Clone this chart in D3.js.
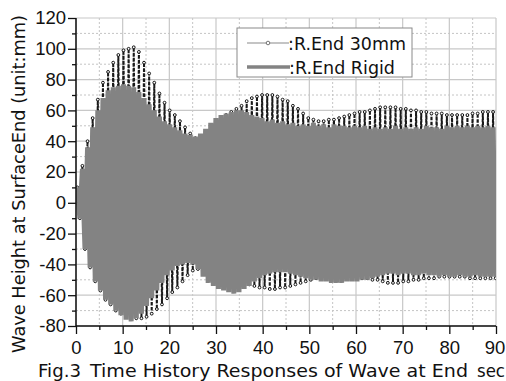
<!DOCTYPE html>
<html><head><meta charset="utf-8">
<script src="https://cdn.jsdelivr.net/npm/d3@7"></script>
<style>
html,body{margin:0;padding:0;background:#fff;}
svg{display:block;}
text{font-family:"DejaVu Sans",sans-serif;fill:#111;}
</style></head>
<body>
<svg id="chart" width="506" height="381"></svg>
<script>
// ---- data ----
const cycleTimes = [0.55,1.65,2.75,3.85,4.95,6.05,7.15,8.25,9.35,10.45,11.55,12.65,13.75,14.85,15.95,17.05,18.15,19.25,20.35,21.45,22.55,23.65,24.75,25.85,26.95,28.05,29.15,30.25,31.35,32.45,33.55,34.65,35.75,36.85,37.95,39.05,40.15,41.25,42.35,43.45,44.55,45.65,46.75,47.85,48.95,50.05,51.15,52.25,53.35,54.45,55.55,56.65,57.75,58.85,59.95,61.05,62.15,63.25,64.35,65.45,66.55,67.65,68.75,69.85,70.95,72.05,73.15,74.25,75.35,76.45,77.55,78.65,79.75,80.85,81.95,83.05,84.15,85.25,86.35,87.45,88.55,89.65];
const halfCycle = 0.275;
// R.End 30mm : crest and trough per cycle (mm)
const end30Max = [10,24,40,55,67,78,85,91,96,99, 100,101,98,91,84,78,71,65,60,57, 53,49,45,42,43,46,50,53,55,57, 59,61,63,66,68,69,70,70,70,69, 67,66,63,61,58,55,54,53,53,54, 54,55,56,57,58,59,59,60,61,62, 62,62,62,61,61,60,60,59,59,58, 58,58,57,57,57,57,57,58,58,59, 59,59];
const end30Min = [-10,-30,-42,-51,-57,-63,-66,-70,-72,-74, -75,-75,-75,-74,-72,-69,-66,-62,-58,-55, -51,-47,-44,-43,-44,-46,-47,-48,-49,-50, -50,-51,-52,-53,-54,-55,-55,-56,-56,-55, -55,-54,-53,-52,-51,-50,-49,-49,-48,-48, -48,-48,-48,-48,-48,-49,-49,-50,-50,-51, -52,-52,-52,-51,-51,-50,-50,-49,-49,-49, -48,-48,-48,-48,-48,-48,-49,-49,-49,-49, -49,-49];
// R.End Rigid : crest and trough per cycle (mm)
const rigidMax = [10,22,36,49,60,68,73,75,76,77, 76,75,72,68,64,60,56,53,51,49, 47,45,44,43,45,48,52,55,57,58, 59,60,60,59,57,56,55,53,54,52, 53,51,52,50,51,50,52,50,51,49, 51,50,50,49,50,49,50,48,49,48, 49,48,50,48,49,48,49,48,50,49, 49,48,50,49,50,49,50,49,50,49, 50,49];
const rigidMin = [-10,-30,-42,-51,-57,-63,-66,-70,-73,-76, -77,-75,-72,-67,-62,-57,-52,-47,-44,-41, -40,-39,-40,-43,-48,-52,-54,-56,-57,-58, -59,-58,-56,-54,-51,-49,-47,-46,-45,-45, -45,-46,-47,-48,-49,-50,-50,-51,-51,-52, -52,-52,-51,-51,-51,-50,-50,-49,-48,-47, -46,-46,-47,-46,-46,-47,-47,-46,-47,-47, -48,-47,-48,-48,-47,-48,-48,-47,-48,-48, -48,-48];
const xTicks = [0,10,20,30,40,50,60,70,80,90];
const yTicks = [-80,-60,-40,-20,0,20,40,60,80,100,120];
const seriesNames = [":R.End 30mm", ":R.End Rigid"];
const yTitle = "Wave Height at SurfaceEnd (unit:mm)";
const xTitleParts = ["Fig.3", "Time History Responses of Wave at End", "sec"];

// ---- layout ----
const svg = d3.select("#chart");
const L = 76, R = 496, T = 18, B = 326;
const x = d3.scaleLinear().domain([0, 90]).range([L, R]);
const y = d3.scaleLinear().domain([-80, 120]).range([B, T]);

function toPoints(maxs, mins) {
  const pts = [[0, 0]];
  cycleTimes.forEach((c, i) => {
    pts.push([c - halfCycle, maxs[i]]);
    pts.push([c + halfCycle, mins[i]]);
  });
  return pts;
}

// grid
const g = svg.append("g");
const minorX = d3.range(5, 90, 10);
const minorY = d3.range(-70, 120, 20);
g.selectAll(".mx").data(minorX).join("line")
  .attr("x1", d => x(d)).attr("x2", d => x(d)).attr("y1", T).attr("y2", B)
  .attr("stroke", "#c4c4c4").attr("stroke-width", 1).attr("stroke-dasharray", "2,2");
g.selectAll(".my").data(minorY).join("line")
  .attr("y1", d => y(d)).attr("y2", d => y(d)).attr("x1", L).attr("x2", R)
  .attr("stroke", "#c4c4c4").attr("stroke-width", 1).attr("stroke-dasharray", "2,2");
g.selectAll(".gx").data(xTicks).join("line")
  .attr("x1", d => x(d)).attr("x2", d => x(d)).attr("y1", T).attr("y2", B)
  .attr("stroke", "#c8c8c8").attr("stroke-width", 1.2);
g.selectAll(".gy").data(yTicks).join("line")
  .attr("y1", d => y(d)).attr("y2", d => y(d)).attr("x1", L).attr("x2", R)
  .attr("stroke", "#c8c8c8").attr("stroke-width", 1.2);

// clip
svg.append("clipPath").attr("id", "clip").append("rect")
  .attr("x", L).attr("y", T).attr("width", R - L).attr("height", B - T);
const plot = svg.append("g").attr("clip-path", "url(#clip)");
const line = d3.line().x(d => x(d[0])).y(d => y(d[1]));

// R.End 30mm
const p30 = toPoints(end30Max, end30Min);
plot.append("path").attr("d", line(p30)).attr("fill", "none")
  .attr("stroke", "#1a1a1a").attr("stroke-width", 2).attr("stroke-linejoin", "bevel")
  .attr("stroke-dasharray", "3.5,1.5");
plot.selectAll(".m30").data(p30).join("circle")
  .attr("cx", d => x(d[0])).attr("cy", d => y(d[1])).attr("r", 1.4)
  .attr("fill", "#fff").attr("stroke", "#111").attr("stroke-width", 1);

// R.End Rigid
const pr = toPoints(rigidMax, rigidMin);
plot.append("path").attr("d", line(pr)).attr("fill", "none")
  .attr("stroke", "#838383").attr("stroke-width", 5).attr("stroke-linejoin", "bevel");

// axes
const tickFont = "'Liberation Sans',Arial,sans-serif";
const yAxis = d3.axisLeft(y).tickValues(yTicks).tickSize(8).tickPadding(2).tickFormat(d => String(d));
const yMinor = d3.axisLeft(y).tickValues(minorY).tickSize(4).tickFormat("");
const xAxis = d3.axisBottom(x).tickValues(xTicks).tickSize(8).tickPadding(7).tickFormat(d => String(d));
const xMinor = d3.axisBottom(x).tickValues(minorX).tickSize(4).tickFormat("");
function styleAxis(sel) {
  sel.select(".domain").remove();
  sel.selectAll("line").attr("stroke", "#111").attr("stroke-width", 1.3);
  sel.selectAll("text").style("font-size", "18.5px").style("font-family", tickFont).attr("fill", "#111");
}
svg.append("g").attr("transform", `translate(${L},0)`).call(yAxis).call(styleAxis);
svg.append("g").attr("transform", `translate(${L},0)`).call(yMinor).call(styleAxis);
const xg = svg.append("g").attr("transform", `translate(0,${B})`).call(xAxis).call(styleAxis);
xg.selectAll("text").filter(d => d === 90).attr("dx", "-1.5");
svg.append("g").attr("transform", `translate(0,${B})`).call(xMinor).call(styleAxis);
// frame
svg.append("line").attr("x1", L).attr("x2", L).attr("y1", T).attr("y2", B + 0.5).attr("stroke", "#111").attr("stroke-width", 1.5);
svg.append("line").attr("x1", L).attr("x2", R).attr("y1", B).attr("y2", B).attr("stroke", "#111").attr("stroke-width", 1.5);

// legend
const lg = svg.append("g");
lg.append("rect").attr("x", 237).attr("y", 28).attr("width", 175).attr("height", 49)
  .attr("fill", "#fff").attr("stroke", "#8a8a8a").attr("stroke-width", 1);
lg.append("line").attr("x1", 247).attr("x2", 289).attr("y1", 43).attr("y2", 43)
  .attr("stroke", "#8a8a8a").attr("stroke-width", 1.2);
lg.append("circle").attr("cx", 268).attr("cy", 43).attr("r", 1.8)
  .attr("fill", "#fff").attr("stroke", "#666").attr("stroke-width", 0.9);
lg.append("line").attr("x1", 247).attr("x2", 290).attr("y1", 67).attr("y2", 67)
  .attr("stroke", "#838383").attr("stroke-width", 3.5);
lg.append("text").attr("x", 288).attr("y", 50).attr("textLength", 118).attr("lengthAdjust", "spacingAndGlyphs")
  .style("font-size", "18px").text(seriesNames[0]);
lg.append("text").attr("x", 289).attr("y", 74).attr("textLength", 106).attr("lengthAdjust", "spacingAndGlyphs")
  .style("font-size", "18px").text(seriesNames[1]);

// titles
svg.append("text").attr("transform", "translate(25,184) rotate(-90)")
  .attr("text-anchor", "middle").attr("textLength", 338).attr("lengthAdjust", "spacingAndGlyphs")
  .style("font-size", "18px").text(yTitle);
svg.append("text").attr("x", 38).attr("y", 377).attr("textLength", 43).attr("lengthAdjust", "spacingAndGlyphs")
  .style("font-size", "17.5px").text(xTitleParts[0]);
svg.append("text").attr("x", 90).attr("y", 377).attr("textLength", 378).attr("lengthAdjust", "spacingAndGlyphs")
  .style("font-size", "17.5px").text(xTitleParts[1]);
svg.append("text").attr("x", 477).attr("y", 377).attr("textLength", 28).attr("lengthAdjust", "spacingAndGlyphs")
  .style("font-size", "17.5px").text(xTitleParts[2]);
</script>
</body></html>
